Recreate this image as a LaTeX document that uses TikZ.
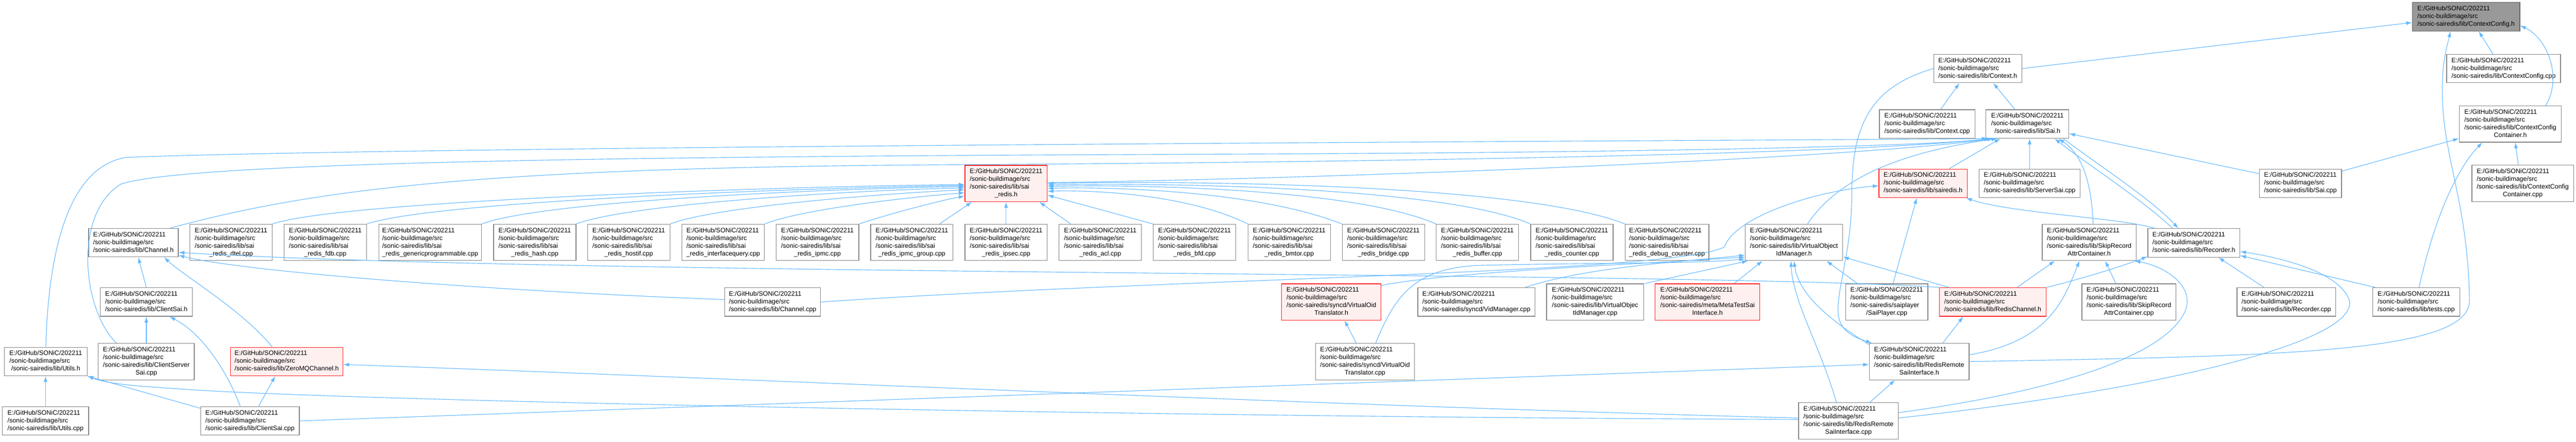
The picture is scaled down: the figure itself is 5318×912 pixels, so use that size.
\documentclass[tikz,border=0pt]{standalone}
\usepackage{fontspec}
\setmainfont{Liberation Sans}
\usepackage{tikz}
\usetikzlibrary{%
  arrows.meta,%
  calc%
}
\definecolor{edgeblue}{HTML}{63B8FF}
\definecolor{boxgray}{HTML}{858585}
\definecolor{rootfill}{HTML}{999999}
\definecolor{rootline}{HTML}{666666}
\definecolor{hotline}{HTML}{FF2020}
\definecolor{hotfill}{HTML}{FFF0F0}
\tikzset{>={Latex[length=12pt,width=8pt]}}
\tikzset{
  box/.style={draw=boxgray,line width=1.3pt,fill=white,inner sep=0pt,
    font=\fontsize{13.3}{16}\selectfont},
  b3/.style={box,minimum height=59pt},
  b4/.style={box,minimum height=75pt},
  hot/.style={draw=hotline,fill=hotfill},
  root/.style={draw=rootline,fill=rootfill},
  dep/.style={->,draw=edgeblue,line width=1.2pt}
}
\newcommand{\pthree}[1]{\begin{tabular}{@{}l@{}}E:/GitHub/SONiC/202211\\/sonic-buildimage/src\\\multicolumn{1}{@{}c@{}}{#1}\end{tabular}}
\newcommand{\pfour}[2]{\begin{tabular}{@{}l@{}}E:/GitHub/SONiC/202211\\/sonic-buildimage/src\\#1\\\multicolumn{1}{@{}c@{}}{#2}\end{tabular}}

\begin{document}
\begin{tikzpicture}[x=1pt,y=-1pt]
    \useasboundingbox (0,0) rectangle (5318,912);
    \node[b3,root,minimum width=222pt] (cfgh) at (5091,34.5) {\pthree{/sonic-sairedis/lib/ContextConfig.h}};
    \node[b3,minimum width=182pt] (ctxh) at (4083,141.5) {\pthree{/sonic-sairedis/lib/Context.h}};
    \node[b3,minimum width=235pt] (cfgcpp) at (5168.5,141.5) {\pthree{/sonic-sairedis/lib/ContextConfig.cpp}};
    \node[b3,minimum width=197pt] (ctxcpp) at (3978.5,256) {\pthree{/sonic-sairedis/lib/Context.cpp}};
    \node[b3,minimum width=171pt] (saih) at (4185.5,256) {\pthree{/sonic-sairedis/lib/Sai.h}};
    \node[b4,minimum width=211pt] (ccch) at (5182.5,256) {\pfour{/sonic-sairedis/lib/ContextConfig}{Container.h}};
    \node[b4,minimum width=210pt] (ccccpp) at (5208,378.5) {\pfour{/sonic-sairedis/lib/ContextConfig}{Container.cpp}};
    \node[b3,minimum width=170pt] (saicpp) at (4749,378.5) {\pthree{/sonic-sairedis/lib/Sai.cpp}};
    \node[b3,hot,minimum width=182pt] (sairedispub) at (3970,378.5) {\pthree{/sonic-sairedis/lib/sairedis.h}};
    \node[b3,minimum width=208pt] (serversai) at (4190,378.5) {\pthree{/sonic-sairedis/lib/ServerSai.cpp}};
    \node[b4,hot,minimum width=170pt] (sairedish) at (2077,379) {\pfour{/sonic-sairedis/lib/sai}{\_redis.h}};
    \node[b3,minimum width=185pt] (channelh) at (275.5,501) {\pthree{/sonic-sairedis/lib/Channel.h}};
    \node[b4,minimum width=170pt] (dtel) at (477,500.5) {\pfour{/sonic-sairedis/lib/sai}{\_redis\_dtel.cpp}};
    \node[b4,minimum width=170pt] (fdb) at (671.5,500.5) {\pfour{/sonic-sairedis/lib/sai}{\_redis\_fdb.cpp}};
    \node[b4,minimum width=212pt] (genprog) at (888,500.5) {\pfour{/sonic-sairedis/lib/sai}{\_redis\_genericprogrammable.cpp}};
    \node[b4,minimum width=170pt] (hash) at (1104,500.5) {\pfour{/sonic-sairedis/lib/sai}{\_redis\_hash.cpp}};
    \node[b4,minimum width=170pt] (hostif) at (1298,500.5) {\pfour{/sonic-sairedis/lib/sai}{\_redis\_hostif.cpp}};
    \node[b4,minimum width=170pt] (ifquery) at (1493,500.5) {\pfour{/sonic-sairedis/lib/sai}{\_redis\_interfacequery.cpp}};
    \node[b4,minimum width=171pt] (ipmc) at (1687.5,500.5) {\pfour{/sonic-sairedis/lib/sai}{\_redis\_ipmc.cpp}};
    \node[b4,minimum width=170pt] (ipmcgroup) at (1882.5,500.5) {\pfour{/sonic-sairedis/lib/sai}{\_redis\_ipmc\_group.cpp}};
    \node[b4,minimum width=170pt] (ipsec) at (2077,500.5) {\pfour{/sonic-sairedis/lib/sai}{\_redis\_ipsec.cpp}};
    \node[b4,minimum width=170pt] (acl) at (2271.5,500.5) {\pfour{/sonic-sairedis/lib/sai}{\_redis\_acl.cpp}};
    \node[b4,minimum width=170pt] (bfd) at (2466,500.5) {\pfour{/sonic-sairedis/lib/sai}{\_redis\_bfd.cpp}};
    \node[b4,minimum width=170pt] (bmtor) at (2661.5,500.5) {\pfour{/sonic-sairedis/lib/sai}{\_redis\_bmtor.cpp}};
    \node[b4,minimum width=170pt] (bridge) at (2856,500.5) {\pfour{/sonic-sairedis/lib/sai}{\_redis\_bridge.cpp}};
    \node[b4,minimum width=170pt] (buffer) at (3050,500.5) {\pfour{/sonic-sairedis/lib/sai}{\_redis\_buffer.cpp}};
    \node[b4,minimum width=170pt] (counter) at (3245,500.5) {\pfour{/sonic-sairedis/lib/sai}{\_redis\_counter.cpp}};
    \node[b4,minimum width=173pt] (dbgcounter) at (3441.5,500.5) {\pfour{/sonic-sairedis/lib/sai}{\_redis\_debug\_counter.cpp}};
    \node[b4,minimum width=201pt] (voimh) at (3703.5,500.5) {\pfour{/sonic-sairedis/lib/VirtualObject}{IdManager.h}};
    \node[b4,minimum width=194pt] (srach) at (4313,500.5) {\pfour{/sonic-sairedis/lib/SkipRecord}{AttrContainer.h}};
    \node[b3,minimum width=190pt] (recorderh) at (4529,501.5) {\pthree{/sonic-sairedis/lib/Recorder.h}};
    \node[b3,minimum width=190pt] (clientsaih) at (302,623.5) {\pthree{/sonic-sairedis/lib/ClientSai.h}};
    \node[b3,minimum width=198pt] (channelcpp) at (1595,623.5) {\pthree{/sonic-sairedis/lib/Channel.cpp}};
    \node[b4,hot,minimum width=205pt] (voth) at (2748.5,623.5) {\pfour{/sonic-sairedis/syncd/VirtualOid}{Translator.h}};
    \node[b3,minimum width=242pt] (vidmgr) at (3048,623.5) {\pthree{/sonic-sairedis/syncd/VidManager.cpp}};
    \node[b4,minimum width=200pt] (voimcpp) at (3293,623.5) {\pfour{/sonic-sairedis/lib/VirtualObjec}{tIdManager.cpp}};
    \node[b4,hot,minimum width=216pt] (metatest) at (3525,623.5) {\pfour{/sonic-sairedis/meta/MetaTestSai}{Interface.h}};
    \node[b4,minimum width=170pt] (saiplayer) at (3895,623.5) {\pfour{/sonic-sairedis/saiplayer}{/SaiPlayer.cpp}};
    \node[b3,hot,minimum width=220pt] (redischannelh) at (4114,623.5) {\pthree{/sonic-sairedis/lib/RedisChannel.h}};
    \node[b4,minimum width=194pt] (sraccpp) at (4395,623.5) {\pfour{/sonic-sairedis/lib/SkipRecord}{AttrContainer.cpp}};
    \node[b3,minimum width=204pt] (recordercpp) at (4720,623.5) {\pthree{/sonic-sairedis/lib/Recorder.cpp}};
    \node[b3,minimum width=180pt] (testscpp) at (4988,623.5) {\pthree{/sonic-sairedis/lib/tests.cpp}};
    \node[b3,minimum width=171pt] (utilsh) at (94.5,746.5) {\pthree{/sonic-sairedis/lib/Utils.h}};
    \node[b4,minimum width=198pt] (csscpp) at (302,746.5) {\pfour{/sonic-sairedis/lib/ClientServer}{Sai.cpp}};
    \node[b3,hot,minimum width=232pt] (zmqh) at (592,746.5) {\pthree{/sonic-sairedis/lib/ZeroMQChannel.h}};
    \node[b4,minimum width=204pt] (votcpp) at (2818,746.5) {\pfour{/sonic-sairedis/syncd/VirtualOid}{Translator.cpp}};
    \node[b4,minimum width=206pt] (rrsih) at (3962,746.5) {\pfour{/sonic-sairedis/lib/RedisRemote}{SaiInterface.h}};
    \node[b3,minimum width=178pt] (utilscpp) at (94,869) {\pthree{/sonic-sairedis/lib/Utils.cpp}};
    \node[b3,minimum width=204pt] (clientsaicpp) at (516,869) {\pthree{/sonic-sairedis/lib/ClientSai.cpp}};
    \node[b4,minimum width=206pt] (rrsicpp) at (3816,869) {\pfour{/sonic-sairedis/lib/RedisRemote}{SaiInterface.cpp}};

    \draw[dep] (ctxh.east) -- ($(cfgh.west)+(0,12)$);
    \draw[dep] ($(cfgcpp.north)+(-22,0)$) -- ($(cfgh.south)+(26,0)$);
    \draw[dep] ($(ccch.north)+(73,0)$) .. controls (5290,160) and (5260,80) .. ($(cfgh.east)+(0,18)$);
    \draw[dep] (rrsih.east) .. controls (4700,735) and (5100,730) .. (5098,620) .. controls (5095,420) and (5045,330) .. (5042,200) .. controls (5040,130) and (5052,95) .. ($(cfgh.south)+(-32,0)$);
    \draw[dep] ($(ctxcpp.north)+(28,0)$) -- ($(ctxh.south)+(-38,0)$);
    \draw[dep] ($(saih.north)+(-26,0)$) -- ($(ctxh.south)+(32,0)$);
    \draw[dep] ($(ccccpp.north)+(-9,0)$) -- ($(ccch.south)+(10,0)$);
    \draw[dep] ($(saicpp.north east)+(0,5)$) -- ($(ccch.west)+(0,30)$);
    \draw[dep] ($(testscpp.north)+(6,0)$) .. controls (5030,430) and (5080,340) .. ($(ccch.south)+(-58,0)$);
    \draw[dep] ($(saicpp.west)+(0,-20)$) -- ($(saih.east)+(0,20)$);
    \draw[dep] (serversai.north) -- (serversai.north |- saih.south);
    \draw[dep] ($(sairedispub.north)+(54,0)$) -- ($(saih.south)+(-56,0)$);
    \draw[dep] (utilsh.north) .. controls (100,520) and (140,345) .. (260,325) .. controls (900,300) and (3700,290) .. ($(saih.south west)+(4,0)$);
    \draw[dep] ($(csscpp.north west)+(38,0)$) .. controls (170,640) and (150,440) .. (250,380) .. controls (400,330) and (1500,322) .. (2600,318) .. controls (3500,314) and (4000,300) .. ($(saih.south west)+(8,0)$);
    \draw[dep] ($(channelh.north east)+(-17,0)$) .. controls (650,390) and (1000,345) .. (1985,340) .. controls (2800,335) and (3800,320) .. ($(saih.south west)+(12,0)$);
    \draw[dep] ($(sairedish.east)+(0,-2)$) .. controls (2700,370) and (3800,330) .. ($(saih.south west)+(16,0)$);
    \draw[dep] ($(voimh.north)+(28,0)$) .. controls (3780,390) and (3880,320) .. ($(saih.south west)+(24,0)$);
    \draw[dep] ($(srach.north)+(8,0)$) .. controls (4318,380) and (4300,320) .. ($(saih.south east)+(-22,0)$);
    \draw[dep] ($(saih.south east)+(-12,0)$) .. controls (4330,340) and (4440,410) .. ($(recorderh.north)+(-32,0)$);
    \draw[dep] ($(recorderh.north)+(-44,0)$) .. controls (4420,410) and (4310,340) .. ($(saih.south east)+(-30,0)$);
    \draw[dep] (ctxh.west) .. controls (3860,180) and (3823,260) .. (3823,400) .. controls (3823,520) and (3790,600) .. (3795,650) .. controls (3800,690) and (3840,700) .. ($(rrsih.north west)+(6,0)$);

    \draw[dep] (dtel.north east) .. controls (700,415) and (1600,385) .. ($(sairedish.west)+(0,2)$);
    \draw[dep] (fdb.north east) .. controls (900,415) and (1650,388) .. ($(sairedish.west)+(0,4)$);
    \draw[dep] (genprog.north east) .. controls (1120,415) and (1700,390) .. ($(sairedish.west)+(0,6)$);
    \draw[dep] (hash.north east) .. controls (1300,420) and (1780,392) .. ($(sairedish.west)+(0,9)$);
    \draw[dep] (hostif.north east) .. controls (1480,425) and (1850,398) .. ($(sairedish.west)+(0,13)$);
    \draw[dep] (ifquery.north east) .. controls (1660,430) and (1900,405) .. ($(sairedish.west)+(0,19)$);
    \draw[dep] (ipmc.north east) .. controls (1840,440) and (1950,412) .. ($(sairedish.west)+(0,26)$);
    \draw[dep] ($(ipmcgroup.north)+(57,0)$) -- ($(sairedish.south west)+(15,0)$);
    \draw[dep] (ipsec.north) -- (sairedish.south);
    \draw[dep] ($(acl.north)+(-61,0)$) -- ($(sairedish.south east)+(-17,0)$);
    \draw[dep] (bfd.north west) -- ($(sairedish.east)+(0,24)$);
    \draw[dep] (bmtor.north west) .. controls (2450,400) and (2250,392) .. ($(sairedish.east)+(0,16)$);
    \draw[dep] (bridge.north west) .. controls (2600,395) and (2300,385) .. ($(sairedish.east)+(0,10)$);
    \draw[dep] (buffer.north west) .. controls (2800,390) and (2350,380) .. ($(sairedish.east)+(0,6)$);
    \draw[dep] (counter.north west) .. controls (2980,385) and (2400,377) .. ($(sairedish.east)+(0,3)$);
    \draw[dep] (dbgcounter.north west) .. controls (3150,380) and (2450,372) .. (sairedish.east);

    \draw[dep] (clientsaih.north) -- ($(channelh.south)+(10,0)$);
    \draw[dep] ($(zmqh.north)+(-30,0)$) .. controls (500,640) and (380,570) .. ($(channelh.south east)+(-30,0)$);
    \draw[dep] ($(channelcpp.west)+(0,-5)$) .. controls (1000,600) and (500,560) .. ($(channelh.south east)+(0,-4)$);
    \draw[dep] (redischannelh.north west) .. controls (3500,560) and (1200,570) .. ($(channelh.south east)+(0,-10)$);
    \draw[dep] (channelcpp.east) .. controls (2400,575) and (3450,565) .. (3560,510) .. controls (3580,450) and (3740,395) .. ($(sairedispub.west)+(0,5)$);

    \draw[dep] ($(votcpp.north)+(-18,0)$) -- ($(voth.south)+(27,0)$);
    \draw[dep] ($(votcpp.north)+(22,0)$) .. controls (2880,610) and (2920,555) .. (3050,548) .. controls (3300,542) and (3500,545) .. ($(voimh.south west)+(0,-4)$);
    \draw[dep] ($(voth.north east)+(0,4)$) .. controls (3000,560) and (3400,545) .. ($(voimh.south west)+(0,-8)$);
    \draw[dep] ($(vidmgr.north east)+(-21,0)$) .. controls (3280,550) and (3480,540) .. ($(voimh.south west)+(0,-12)$);
    \draw[dep] ($(voimcpp.north east)+(2,0)$) -- ($(voimh.south west)+(6,0)$);
    \draw[dep] ($(metatest.north)+(55,0)$) -- ($(voimh.south)+(-65,0)$);
    \draw[dep] ($(saiplayer.north west)+(25,0)$) -- ($(voimh.south east)+(-34,0)$);
    \draw[dep] ($(saiplayer.north)+(13,0)$) -- ($(sairedispub.south)+(-13,0)$);
    \draw[dep] ($(redischannelh.north west)+(20,0)$) -- ($(voimh.east)+(0,30)$);
    \draw[dep] ($(rrsih.north west)+(0,3)$) .. controls (3760,650) and (3712,600) .. (voimh.south);
    \draw[dep] ($(rrsicpp.north)+(-25,0)$) .. controls (3760,720) and (3700,620) .. ($(voimh.south)+(-6,0)$);
    \draw[dep] ($(rrsih.north east)+(-55,0)$) -- ($(redischannelh.south)+(-61,0)$);
    \draw[dep] ($(rrsicpp.north)+(44,0)$) -- ($(rrsih.south)+(-50,0)$);

    \draw[dep] ($(redischannelh.north)+(50,0)$) -- ($(srach.south)+(-71,0)$);
    \draw[dep] (redischannelh.north east) .. controls (4300,575) and (4380,550) .. ($(recorderh.south west)+(0,-2)$);
    \draw[dep] ($(rrsih.east)+(0,-14)$) .. controls (4230,705) and (4260,620) .. ($(srach.south)+(-20,0)$);
    \draw[dep] ($(rrsicpp.east)+(0,-17)$) .. controls (4300,800) and (4480,720) .. (4512,640) .. controls (4530,590) and (4470,550) .. ($(srach.south east)+(-4,0)$);
    \draw[dep] ($(rrsicpp.east)+(0,-6)$) .. controls (4500,800) and (4870,700) .. (4850,620) .. controls (4830,560) and (4700,530) .. ($(recorderh.east)+(0,18)$);
    \draw[dep] ($(testscpp.north west)+(6,0)$) -- ($(recorderh.south east)+(0,-4)$);
    \draw[dep] ($(recordercpp.north)+(-46,0)$) -- ($(recorderh.south)+(51,0)$);
    \draw[dep] ($(sraccpp.north)+(-27,0)$) -- ($(srach.south)+(33,0)$);
    \draw[dep] ($(recorderh.north west)+(15,0)$) .. controls (4380,450) and (4150,440) .. ($(sairedispub.south east)+(-3,0)$);

    \draw[dep] (utilscpp.north) -- (utilscpp.north |- utilsh.south);
    \draw[dep] (csscpp.north) -- (clientsaih.south);
    \draw[dep] ($(clientsaicpp.north)+(-20,0)$) .. controls (470,770) and (420,690) .. ($(clientsaih.south)+(48,0)$);
    \draw[dep] ($(clientsaicpp.north)+(18,0)$) -- ($(zmqh.south)+(-24,0)$);
    \draw[dep] ($(clientsaicpp.north west)+(0,4)$) -- (utilsh.south east);
    \draw[dep] (clientsaicpp.east) -- ($(rrsih.west)+(0,6)$);
    \draw[dep] ($(rrsicpp.west)+(0,-6)$) .. controls (2800,840) and (1500,780) .. ($(zmqh.east)+(0,6)$);
    \draw[dep] ($(rrsicpp.west)+(0,-3)$) .. controls (2500,862) and (800,830) .. (400,805) .. controls (300,798) and (230,795) .. (utilsh.south east);
\end{tikzpicture}
\end{document}
